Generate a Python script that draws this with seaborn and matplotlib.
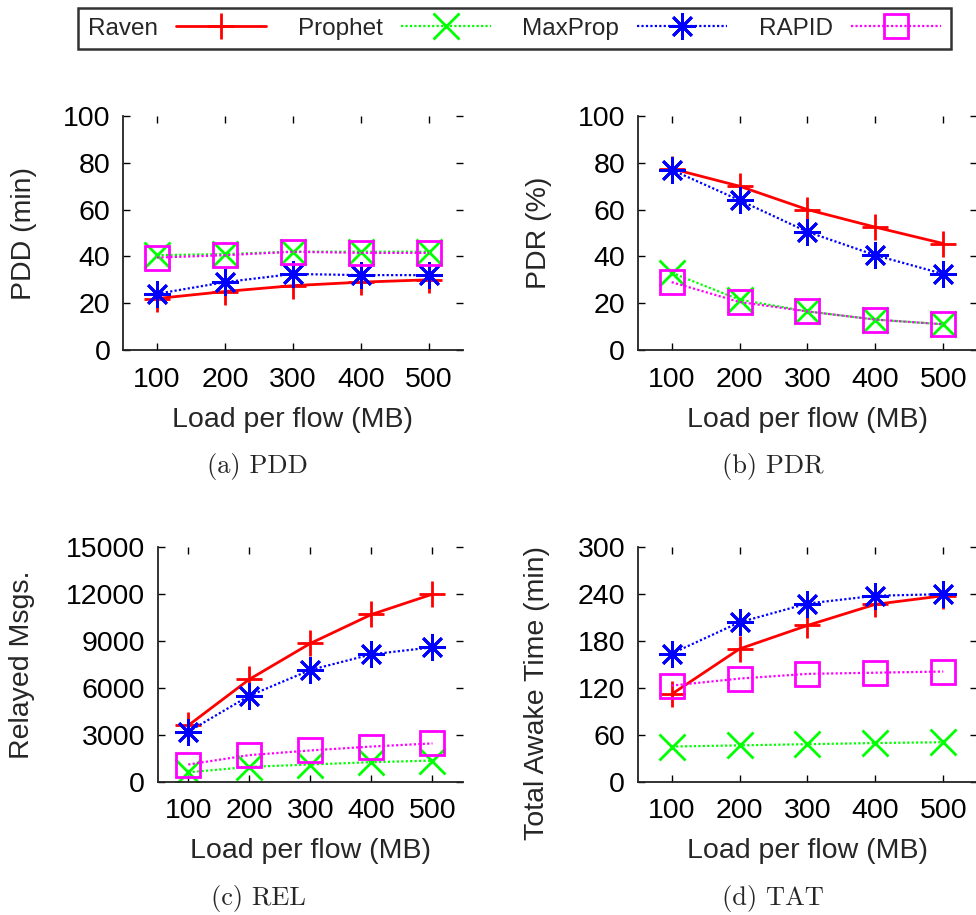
import matplotlib
matplotlib.use("Agg")
import matplotlib.pyplot as plt
import seaborn as sns
import pandas as pd

# ---- data ----
loads = [100, 200, 300, 400, 500]
protocols = ["Raven", "Prophet", "MaxProp", "RAPID"]

pdd_raven = [22, 25, 27.5, 29, 30]
pdd_prophet = [40.5, 41, 42, 42, 42]
pdd_maxprop = [24, 29, 32.5, 32, 32]
pdd_rapid = [39.5, 40.5, 42, 41.5, 41.5]

pdr_raven = [77.5, 70, 60, 52.5, 45.5]
pdr_prophet = [33, 21.5, 16.5, 13, 11]
pdr_maxprop = [77, 64, 50.5, 40.5, 32.5]
pdr_rapid = [29, 20.5, 16.5, 13, 11]

rel_raven = [3600, 6550, 8850, 10700, 12000]
rel_prophet = [600, 950, 1100, 1250, 1350]
rel_maxprop = [3200, 5500, 7150, 8150, 8600]
rel_rapid = [1100, 1700, 2000, 2250, 2450]

tat_raven = [112, 170, 200, 227, 238]
tat_prophet = [45, 46.5, 48, 49.5, 50.5]
tat_maxprop = [164, 204, 228, 238, 240]
tat_rapid = [123, 132, 138, 139.5, 141]

panels = [
    ("PDD (min)", "(a) PDD", [pdd_raven, pdd_prophet, pdd_maxprop, pdd_rapid], [0, 20, 40, 60, 80, 100]),
    ("PDR (%)", "(b) PDR", [pdr_raven, pdr_prophet, pdr_maxprop, pdr_rapid], [0, 20, 40, 60, 80, 100]),
    ("Relayed Msgs.", "(c) REL", [rel_raven, rel_prophet, rel_maxprop, rel_rapid], [0, 3000, 6000, 9000, 12000, 15000]),
    ("Total Awake Time (min)", "(d) TAT", [tat_raven, tat_prophet, tat_maxprop, tat_rapid], [0, 60, 120, 180, 240, 300]),
]

# ---- styles ----
colors = {"Raven": "#ff0000", "Prophet": "#00ff00", "MaxProp": "#0000ff", "RAPID": "#ff00ff"}
markers = {"Raven": "+", "Prophet": "x", "MaxProp": (8, 2, 0), "RAPID": "s"}
msizes = {"Raven": 19, "Prophet": 19, "MaxProp": 19, "RAPID": 17.5}
lstyles = {"Raven": "-", "Prophet": (0, (1, 1)), "MaxProp": (0, (1, 1)), "RAPID": (0, (1, 1))}
lwidths = {"Raven": 2.0, "Prophet": 1.6, "MaxProp": 1.6, "RAPID": 1.6}

sns.set_theme(style="ticks")
plt.rcParams["font.family"] = ["Liberation Sans", "DejaVu Sans"]

W, H = 976, 915
fig = plt.figure(figsize=(W / 100, H / 100), dpi=100)

# axes boxes in pixels: left, top, width, height
boxes = [
    (123, 116, 340, 234),
    (637.7, 116, 339.5, 234),
    (157.7, 547.3, 305.3, 234.4),
    (637.7, 547.3, 339.5, 234.4),
]
label_coords = [(-0.253, 0.5), (-0.252, 0.5), (-0.402, 0.5), (-0.258, 0.378)]
captions_xy = [(257.5, 466), (772.7, 467), (258, 898), (772.5, 898)]

handles = None
for (ylabel, caption, series, yticks), box, lc, cxy in zip(panels, boxes, label_coords, captions_xy):
    l, t, w, h = box
    ax = fig.add_axes([l / W, 1 - (t + h) / H, w / W, h / H])
    for name, vals in zip(protocols, series):
        df = pd.DataFrame({"Load": loads, "Value": vals})
        sns.lineplot(
            data=df, x="Load", y="Value", ax=ax, errorbar=None,
            color=colors[name], linestyle=lstyles[name], linewidth=lwidths[name],
            marker=markers[name], markersize=msizes[name],
            markeredgecolor=colors[name], markerfacecolor="none",
            markeredgewidth=2.0, label=name,
        )
    if ax.get_legend() is not None:
        ax.get_legend().remove()
    ax.set_xlim(50, 550)
    ax.set_ylim(yticks[0], yticks[-1])
    ax.set_xticks(loads)
    ax.set_yticks(yticks)
    ax.tick_params(axis="both", which="major", direction="in", length=5, width=1.0,
                   labelsize=20.5, colors="black", top=True, right=True, pad=9)
    ax.tick_params(axis="x", pad=12)
    for side in ("top", "right"):
        ax.spines[side].set_visible(False)
    for side in ("left", "bottom"):
        ax.spines[side].set_linewidth(1.3)
        ax.spines[side].set_color("#222222")
    ax.set_xlabel("Load per flow (MB)", fontsize=20.5, labelpad=10)
    ax.set_ylabel(ylabel, fontsize=20.5)
    ax.yaxis.set_label_coords(*lc)
    fig.text(cxy[0] / W, 1 - cxy[1] / H, caption, fontsize=19, family="cmr10",
             ha="center", va="center")
    if handles is None:
        handles, labels = ax.get_legend_handles_labels()

leg = fig.legend(
    handles, labels, loc="center", bbox_to_anchor=(514.5 / W, 1 - 28.7 / H),
    ncol=4, markerfirst=False, frameon=True, fancybox=False, fontsize=17.5,
    handlelength=3.7, handletextpad=0.75, columnspacing=1.3, numpoints=1,
    borderpad=0.4, borderaxespad=0.0,
)
leg.get_frame().set_edgecolor("black")
leg.get_frame().set_linewidth(1.8)

fig.savefig("out.png", dpi=100)
